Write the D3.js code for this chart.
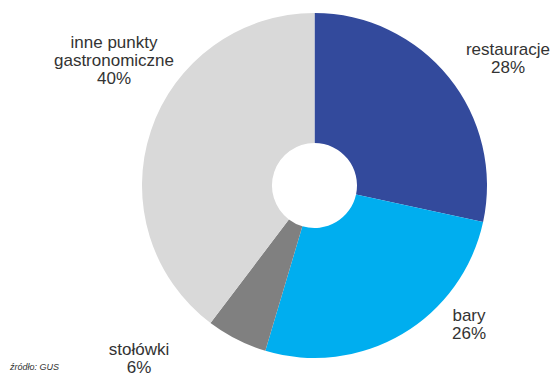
<!DOCTYPE html>
<html>
<head>
<meta charset="utf-8">
<script src="https://cdn.jsdelivr.net/npm/d3@7"></script>
<style>
  body { margin: 0; background: #fff; }
  svg text { font-family: "Liberation Sans", Arial, sans-serif; fill: #333; }
</style>
</head>
<body>
<svg width="553" height="376"></svg>
<script>
// chart data (shares, labels show rounded values)
const categories = ["restauracje", "bary", "stołówki", "inne punkty gastronomiczne"];
const shares = [28.4, 26.2, 5.7, 39.7];
const colors = ["#334a9c", "#00aeef", "#808080", "#d9d9d9"];

const svg = d3.select("svg");
const cx = 314.5, cy = 185.5;
const outerR = 172.5, innerR = 42.5;

const pie = d3.pie().sort(null).value(d => d.v);
const arc = d3.arc().innerRadius(innerR).outerRadius(outerR);

const data = categories.map((c, i) => ({ name: c, v: shares[i], color: colors[i] }));

const g = svg.append("g").attr("transform", `translate(${cx},${cy})`);

g.selectAll("path")
    .data(pie(data))
    .enter()
    .append("path")
    .attr("d", arc)
    .attr("fill", d => d.data.color);

// label positions (absolute)
const labelPos = [
    { x: 508, y: 55, lines: ["restauracje"] },
    { x: 469, y: 321, lines: ["bary"] },
    { x: 139, y: 355, lines: ["stołówki"] },
    { x: 114, y: 48, lines: ["inne punkty", "gastronomiczne"] }
];

labelPos.forEach((p, i) => {
    const t = svg.append("text")
        .attr("x", p.x)
        .attr("y", p.y)
        .attr("text-anchor", "middle")
        .style("font-size", "17px");
    const lines = p.lines.concat([Math.round(shares[i]) + "%"]);
    lines.forEach((l, j) => {
        t.append("tspan")
            .attr("x", p.x)
            .attr("dy", j === 0 ? 0 : 18)
            .text(l);
    });
});

svg.append("text")
    .attr("x", 10)
    .attr("y", 370)
    .style("font-size", "9px")
    .style("font-style", "italic")
    .text("źródło: GUS");
</script>
</body>
</html>
